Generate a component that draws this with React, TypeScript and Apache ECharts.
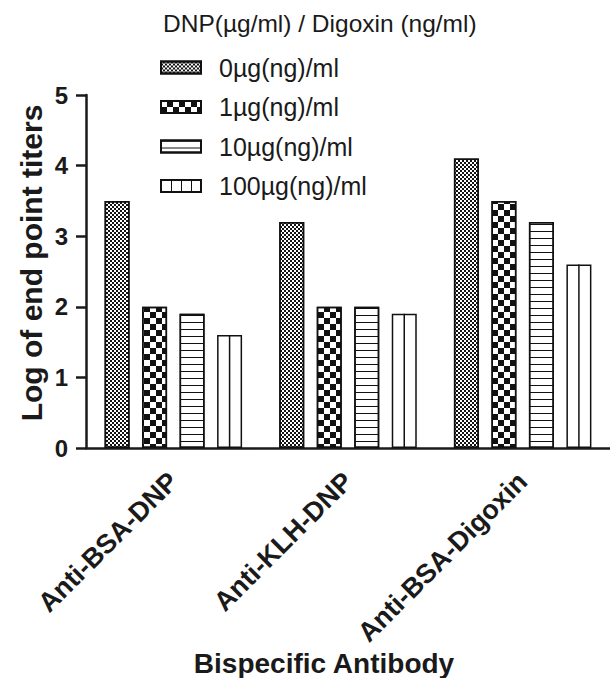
import React, { useEffect, useRef } from "react";
import * as echarts from "echarts";

const categories = ["Anti-BSA-DNP", "Anti-KLH-DNP", "Anti-BSA-Digoxin"];
const seriesNames = ["0µg(ng)/ml", "1µg(ng)/ml", "10µg(ng)/ml", "100µg(ng)/ml"];
const dose0 = [3.5, 3.2, 4.1];
const dose1 = [2.0, 2.0, 3.5];
const dose10 = [1.9, 2.0, 3.2];
const dose100 = [1.6, 1.9, 2.6];
const yTicks = [0, 1, 2, 3, 4, 5];
const legendTitle = "DNP(µg/ml) / Digoxin (ng/ml)";
const xTitle = "Bispecific Antibody";
const yTitle = "Log of end point titers";

const FONT = "Liberation Sans, Arial, sans-serif";
const INK = "#1a1a1a";
const BAR_W = 25;
const BAR_GAP = 0.5;

const decals: any[] = [
  { symbol: "rect", symbolSize: 1, color: "#111", dashArrayX: [[2, 2], [0, 2, 2, 0]], dashArrayY: [2, 0] },
  { symbol: "rect", symbolSize: 1, color: "#111", dashArrayX: [[6, 6], [0, 6, 6, 0]], dashArrayY: [6, 0] },
  { symbol: "rect", symbolSize: 1, color: "#111", dashArrayX: [10, 0], dashArrayY: [1, 6] },
  null,
];
const legendVerticalDecal = { symbol: "rect", symbolSize: 1, color: "#111", dashArrayX: [1, 9], dashArrayY: [10, 0] };

export default function App() {
  const ref = useRef<HTMLDivElement>(null);
  useEffect(() => {
    if (!ref.current) return;
    const chart = echarts.init(ref.current, null, { renderer: "svg" });
    const data = [dose0, dose1, dose10, dose100];
    const total = 4 * BAR_W + 3 * BAR_W * BAR_GAP;
    const lastBarCenterOffset = -total / 2 + 3 * BAR_W * (1 + BAR_GAP) + BAR_W / 2;
    chart.setOption({
      animation: false,
      backgroundColor: "#ffffff",
      title: {
        text: legendTitle,
        left: 163,
        top: 11,
        padding: 0,
        textStyle: { fontFamily: FONT, fontSize: 24.5, fontWeight: "normal", color: INK },
      },
      legend: {
        orient: "vertical",
        left: 160,
        top: 55,
        padding: 0,
        itemWidth: 40,
        itemHeight: 12,
        itemGap: 14.5,
        icon: "rect",
        data: seriesNames.map((name, i) =>
          i === 3 ? { name, itemStyle: { decal: legendVerticalDecal } } : { name }
        ),
        textStyle: { fontFamily: FONT, fontSize: 25, color: INK, padding: [0, 0, 0, 13] },
      },
      grid: { left: 86, top: 95, width: 525, height: 353, containLabel: false },
      xAxis: {
        type: "category",
        data: categories,
        axisLine: { lineStyle: { color: INK, width: 2.5 } },
        axisTick: { alignWithLabel: true, length: 10, lineStyle: { color: INK, width: 2.5 } },
        axisLabel: { rotate: 45, margin: 29, fontFamily: FONT, fontSize: 27, fontWeight: "bold", color: INK },
      },
      yAxis: {
        type: "value",
        min: yTicks[0],
        max: yTicks[yTicks.length - 1],
        interval: 1,
        axisLine: { show: true, lineStyle: { color: INK, width: 2.5 } },
        axisTick: { show: true, length: 10, lineStyle: { color: INK, width: 2.5 } },
        axisLabel: { margin: 18, fontFamily: FONT, fontSize: 24, fontWeight: "bold", color: INK },
        splitLine: { show: false },
      },
      graphic: [
        {
          type: "text",
          x: 31,
          y: 263,
          rotation: Math.PI / 2,
          style: { text: yTitle, align: "center", verticalAlign: "middle", fontFamily: FONT, fontSize: 30, fontWeight: "bold", fill: INK },
        },
        {
          type: "text",
          x: 324,
          y: 663,
          style: { text: xTitle, align: "center", verticalAlign: "middle", fontFamily: FONT, fontSize: 28, fontWeight: "bold", fill: INK },
        },
      ],
      series: [
        ...seriesNames.map((name, i) => ({
          name,
          type: "bar",
          data: data[i],
          barWidth: BAR_W,
          barGap: BAR_GAP * 100 + "%",
          itemStyle: decals[i]
            ? { color: "#ffffff", borderColor: "#111", borderWidth: 1.5, decal: decals[i] }
            : { color: "#ffffff", borderColor: "#111", borderWidth: 1.5 },
        })),
        {
          name: "divider",
          type: "custom",
          z: 5,
          data: dose100.map((v, i) => [i, v]),
          renderItem: (params: any, api: any) => {
            const base = api.coord([api.value(0), 0]);
            const top = api.coord([api.value(0), api.value(1)]);
            const x = base[0] + lastBarCenterOffset;
            return {
              type: "line",
              shape: { x1: x, y1: base[1], x2: x, y2: top[1] },
              style: { stroke: "#111", lineWidth: 1.5 },
            };
          },
        },
      ],
    });
    return () => chart.dispose();
  }, []);
  return <div ref={ref} style={{ position: "fixed", left: 0, top: 0, width: 610, height: 678 }} />;
}
